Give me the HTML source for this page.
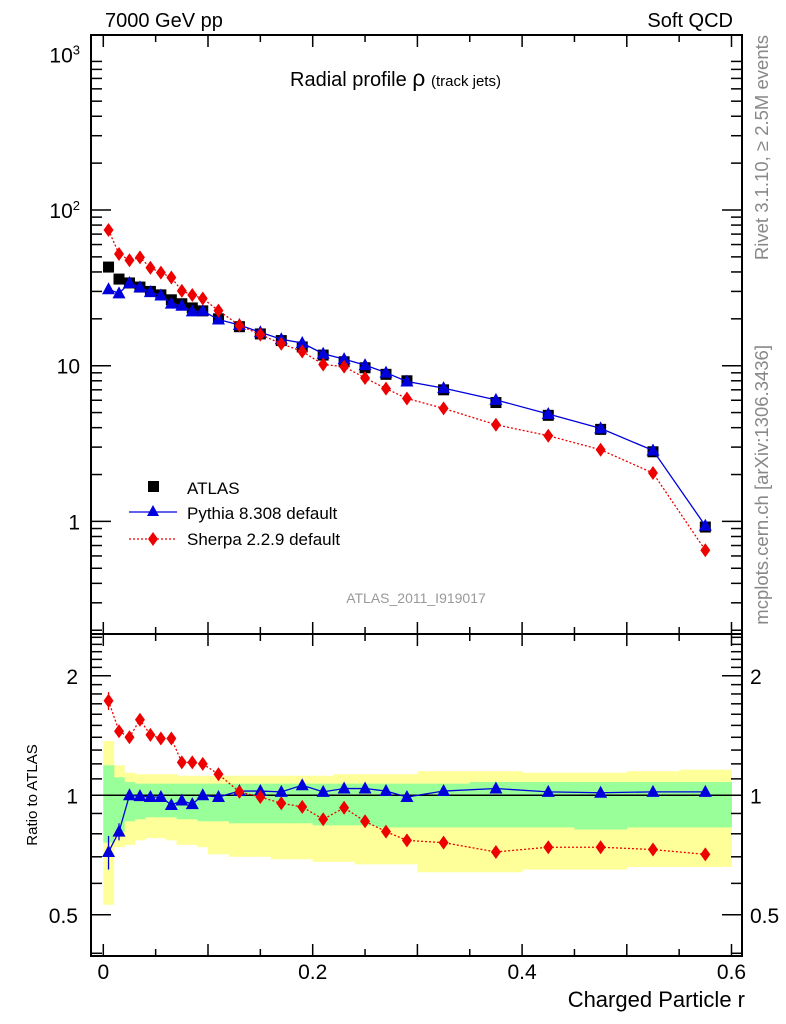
<!DOCTYPE html>
<html><head><meta charset="utf-8"><style>
html,body{margin:0;padding:0;background:#fff;}
svg{display:block;font-family:"Liberation Sans",sans-serif;}
</style></head><body>
<svg id="c" width="786" height="1024" xmlns="http://www.w3.org/2000/svg"></svg>
<script>
const xs=[0.005,0.015,0.025,0.035,0.045,0.055,0.065,0.075,0.085,0.095,0.11,0.13,0.15,0.17,0.19,0.21,0.23,0.25,0.27,0.29,0.325,0.375,0.425,0.475,0.525,0.575];
const edges=[0,0.01,0.02,0.03,0.04,0.05,0.06,0.07,0.08,0.09,0.1,0.12,0.14,0.16,0.18,0.2,0.22,0.24,0.26,0.28,0.3,0.35,0.4,0.45,0.5,0.55,0.6];
const atlas=[43,36,34,32,30,28.5,26.5,25,23.5,22.5,20,17.8,16,14.5,13.2,11.7,10.6,9.7,8.8,8.0,7.0,5.8,4.8,3.9,2.8,0.92];
const pythiaRatio=[0.72,0.81,1.0,0.995,0.99,0.99,0.945,0.97,0.95,1.0,0.99,1.025,1.025,1.02,1.06,1.02,1.04,1.04,1.025,0.99,1.025,1.04,1.02,1.015,1.02,1.02];
const sherpaRatio=[1.73,1.45,1.40,1.55,1.42,1.39,1.39,1.21,1.21,1.20,1.13,1.02,0.99,0.955,0.935,0.87,0.93,0.86,0.81,0.77,0.76,0.72,0.74,0.74,0.73,0.71];
const yHi=[1.37,1.19,1.14,1.13,1.13,1.13,1.13,1.12,1.12,1.12,1.12,1.12,1.12,1.12,1.12,1.12,1.13,1.13,1.13,1.13,1.15,1.15,1.14,1.14,1.15,1.16];
const gHi=[1.19,1.11,1.08,1.07,1.07,1.07,1.07,1.07,1.07,1.07,1.07,1.07,1.07,1.07,1.07,1.07,1.07,1.07,1.07,1.07,1.07,1.08,1.08,1.08,1.08,1.08];
const gLo=[0.76,0.81,0.86,0.87,0.88,0.88,0.88,0.87,0.87,0.86,0.86,0.85,0.85,0.85,0.85,0.84,0.84,0.84,0.83,0.83,0.83,0.83,0.83,0.82,0.83,0.83];
const yLo=[0.53,0.74,0.75,0.77,0.78,0.78,0.77,0.75,0.75,0.74,0.71,0.70,0.70,0.69,0.69,0.68,0.68,0.67,0.67,0.67,0.64,0.64,0.65,0.65,0.66,0.66];
const xTicks=[0,0.2,0.4,0.6];
const upperTicks=[1,10,100,1000];
const upperTickLabels=["1","10","10<tspan dy='-8' font-size='13'>2</tspan>","10<tspan dy='-8' font-size='13'>3</tspan>"];
const ratioTicks=[0.5,1,2];

const L=91,R=742,T=35,M=634,B=956;
const X=v=>103.3+v*1047;
const YU=v=>521.4-Math.log10(v)*155.7;
const YL=v=>795.3-Math.log10(v)*397;
const svg=document.getElementById('c');
const NS='http://www.w3.org/2000/svg';
function el(t,a,p){const e=document.createElementNS(NS,t);for(const k in a)e.setAttribute(k,a[k]);(p||svg).appendChild(e);return e;}

const bands=el('g',{});


for(let i=0;i<xs.length;i++){
  const x0=X(edges[i]),x1=X(edges[i+1]);
  const y=el('rect',{x:x0,y:YL(yHi[i]),width:x1-x0+0.5,height:YL(yLo[i])-YL(yHi[i]),fill:'#ffff99'},bands);
  
  
}
for(let i=0;i<xs.length;i++){
  const x0=X(edges[i]),x1=X(edges[i+1]);
  const g=el('rect',{x:x0,y:YL(gHi[i]),width:x1-x0+0.5,height:YL(gLo[i])-YL(gHi[i]),fill:'#99ff99'},bands);
  
  
}
const one=el('line',{x1:L,x2:R,y1:YL(1),y2:YL(1),stroke:'#000','stroke-width':1.5});



for(const [t,b,n] of [[T,M,'upper-frame'],[M,B,'lower-frame']]){
  const f=el('rect',{x:L,y:t,width:R-L,height:b-t,fill:'none',stroke:'#000','stroke-width':2});
  
  
}
for(let v=0;v<=0.6001;v+=0.05){
  const major=Math.abs(v*10-Math.round(v*10))<1e-6, x=X(v), len=major?12:7;
  for(const [yb,dir] of [[T,1],[M,-1],[M,1],[B,-1]]) el('line',{x1:x,x2:x,y1:yb,y2:yb+dir*len,stroke:'#000','stroke-width':1.5});
}
for(let d=0;d<=3;d++){for(let m=1;m<10;m++){const v=m*Math.pow(10,d-1);if(v<0.19||v>1330)continue;const y=YU(v),len=m==1?20:11;
  el('line',{x1:L,x2:L+len,y1:y,y2:y,stroke:'#000','stroke-width':1.5});el('line',{x1:R,x2:R-len,y1:y,y2:y,stroke:'#000','stroke-width':1.5});}}
for(let v=0.4;v<=2.55;v+=0.1){const vv=Math.round(v*10)/10;const y=YL(vv);if(y<M||y>B)continue;const len=(vv==0.5||vv==1||vv==2)?20:11;
  el('line',{x1:L,x2:L+len,y1:y,y2:y,stroke:'#000','stroke-width':1.5});el('line',{x1:R,x2:R-len,y1:y,y2:y,stroke:'#000','stroke-width':1.5});}

upperTicks.forEach((v,i)=>{const t=el('text',{x:80,y:YU(v)+8,'font-size':21,'text-anchor':'end'});t.innerHTML=upperTickLabels[i];
  });
ratioTicks.forEach(v=>{for(const [x,a] of [[78,'end'],[750,'start']]){const t=el('text',{x:x,y:YL(v)+8,'font-size':21,'text-anchor':a});t.textContent=String(v);
  }});
xTicks.forEach(v=>{const t=el('text',{x:X(v),y:979,'font-size':21,'text-anchor':'middle'});t.textContent=v===0?'0':String(v);
  });

function series(vals,color,dash,shape,name,scale){
  const g=el('g',{});
  const pts=vals.map((v,i)=>[X(xs[i]),scale(v)]);
  const pl=el('polyline',{points:pts.map(p=>p.join(',')).join(' '),fill:'none',stroke:color,'stroke-width':1.3},g);
  if(dash)pl.setAttribute('stroke-dasharray','2,2');
  pts.forEach(([x,y])=>{let m;
    if(shape=='tri')m=el('polygon',{points:`${x},${y-7} ${x-6.5},${y+5} ${x+6.5},${y+5}`,fill:color},g);
    else if(shape=='dia')m=el('polygon',{points:`${x},${y-7} ${x-5},${y} ${x},${y+7} ${x+5},${y}`,fill:color},g);
    else m=el('rect',{x:x-5.5,y:y-5.5,width:11,height:11,fill:color},g);
    });
  return g;
}
const pyth=atlas.map((a,i)=>a*pythiaRatio[i]);
const sher=atlas.map((a,i)=>a*sherpaRatio[i]);
const ag=el('g',{});
atlas.forEach((v,i)=>{const m=el('rect',{x:X(xs[i])-5.5,y:YU(v)-5.5,width:11,height:11,fill:'#000'},ag);
  });
series(pyth,'#0000dd',false,'tri','pythia-series',YU);
series(sher,'#ee0000',true,'dia','sherpa-series',YU);
series(pythiaRatio,'#0000dd',false,'tri','pythia-ratio',YL);
series(sherpaRatio,'#ee0000',true,'dia','sherpa-ratio',YL);
[[0,0.07,'#0000dd',pythiaRatio],[1,0.04,'#0000dd',pythiaRatio],[0,0.09,'#ee0000',sherpaRatio]].forEach(([i,e,c,a])=>{
  const x=X(xs[i]);el('line',{x1:x,x2:x,y1:YL(a[i]+e),y2:YL(a[i]-e),stroke:c,'stroke-width':1.3});});

function txt(x,y,s,size,attrs,name){const t=el('text',Object.assign({x:x,y:y,'font-size':size},attrs||{}));t.textContent=s;return t;}
el('rect',{x:148,y:481,width:11,height:11,fill:'#000'});
txt(187,494,'ATLAS',17,{},'legend-atlas');
el('line',{x1:129,x2:177,y1:512,y2:512,stroke:'#0000dd','stroke-width':1.3});
el('polygon',{points:'153,505 147,516 159,516',fill:'#0000dd'});
txt(187,519,'Pythia 8.308 default',17,{},'legend-pythia');
el('line',{x1:129,x2:177,y1:539,y2:539,stroke:'#ee0000','stroke-width':1.3,'stroke-dasharray':'2,2'});
el('polygon',{points:'153,532 148,539 153,546 158,539',fill:'#ee0000'});
txt(187,545,'Sherpa 2.2.9 default',17,{},'legend-sherpa');
txt(416,603,'ATLAS_2011_I919017',14,{fill:'#999','text-anchor':'middle'},'analysis-id');

txt(105,27,'7000 GeV pp',20,{},'beam-label');
txt(733,27,'Soft QCD',20,{'text-anchor':'end'},'process-label');
const ti=el('text',{x:290,y:86,'font-size':20});ti.innerHTML="Radial profile <tspan font-size='23'>ρ</tspan> <tspan font-size='15'>(track jets)</tspan>";

txt(745,1007,'Charged Particle r',22,{'text-anchor':'end'},'x-axis-title');
txt(0,0,'Ratio to ATLAS',15,{'text-anchor':'middle',transform:'translate(37,795) rotate(-90)'},'y-axis-title-ratio');
txt(0,0,'Rivet 3.1.10, ≥ 2.5M events',18.5,{'text-anchor':'end',fill:'#888',transform:'translate(768,35) rotate(-90)'},'rivet-label');
txt(0,0,'mcplots.cern.ch [arXiv:1306.3436]',18.5,{'text-anchor':'end',fill:'#888',transform:'translate(768,345) rotate(-90)'},'mcplots-label');
</script>
</body></html>
